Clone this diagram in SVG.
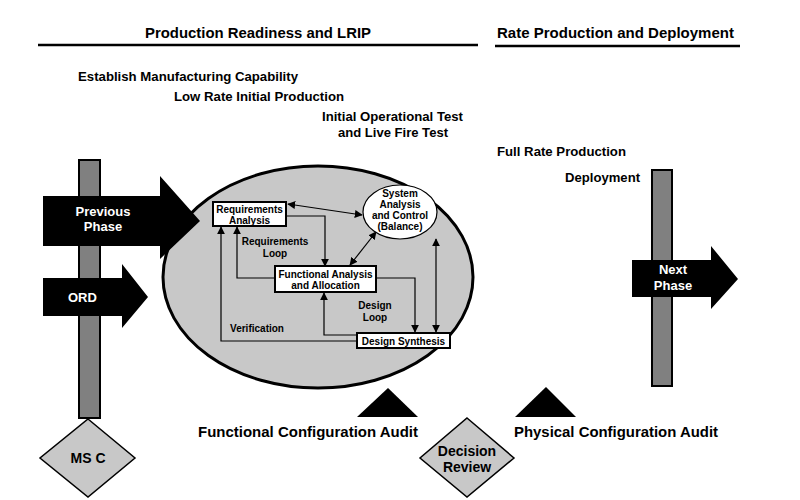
<svg xmlns="http://www.w3.org/2000/svg" width="800" height="500" viewBox="0 0 800 500">
<style>
text{font-family:"Liberation Sans",Arial,sans-serif;font-weight:bold;fill:#000}
.hdr{font-size:15px}
.aud{font-size:15px}
.act{font-size:13px}
.wt{fill:#fff;font-size:13px}
.sm{font-size:10px}
.box{fill:#fff;stroke:#000;stroke-width:2}
.bar{fill:#808080;stroke:#000;stroke-width:2}
.dia{fill:#c8c8c8;stroke:#000;stroke-width:1.5}
.con{fill:none;stroke:#000;stroke-width:1.2}
</style>
<defs>
<marker id="ah" viewBox="0 0 10 10" refX="9" refY="5" markerWidth="8" markerHeight="8" orient="auto-start-reverse" markerUnits="userSpaceOnUse"><path d="M0,0 L10,5 L0,10 z" fill="#000"/></marker>
</defs>
<rect width="800" height="500" fill="#fff"/>

<g id="headers">
<text class="hdr" x="145" y="38" textLength="226" lengthAdjust="spacingAndGlyphs">Production Readiness and LRIP</text>
<line x1="38" y1="45" x2="478" y2="45" stroke="#000" stroke-width="2.5"/>
<text class="hdr" x="497" y="38" textLength="237" lengthAdjust="spacingAndGlyphs">Rate Production and Deployment</text>
<line x1="495" y1="46" x2="740" y2="46" stroke="#000" stroke-width="2.5"/>
</g>

<g id="activities">
<text class="act" x="78" y="81" textLength="220" lengthAdjust="spacingAndGlyphs">Establish Manufacturing Capability</text>
<text class="act" x="174" y="101" textLength="170" lengthAdjust="spacingAndGlyphs">Low Rate Initial Production</text>
<text class="act" x="322" y="121" textLength="141" lengthAdjust="spacingAndGlyphs">Initial Operational Test</text>
<text class="act" x="338" y="137" textLength="110" lengthAdjust="spacingAndGlyphs">and Live Fire Test</text>
<text class="act" x="497" y="156" textLength="129" lengthAdjust="spacingAndGlyphs">Full Rate Production</text>
<text class="act" x="565" y="182" textLength="75" lengthAdjust="spacingAndGlyphs">Deployment</text>
</g>

<g id="left-bar"><rect class="bar" x="79" y="160" width="21" height="258"/></g>
<g id="right-bar"><rect class="bar" x="652" y="170" width="20" height="216"/></g>

<g id="se-process"><ellipse cx="318" cy="277" rx="155" ry="111" fill="#c8c8c8" stroke="#000" stroke-width="3"/></g>

<g id="previous-phase">
<path d="M43,196 H160 V176 L200,221 L160,259 V246 H43 Z" fill="#000"/>
<text class="wt" x="103" y="216" text-anchor="middle">Previous</text>
<text class="wt" x="103" y="231" text-anchor="middle">Phase</text>
</g>

<g id="ord">
<path d="M43,278 H122 V264 L148,297 L122,328 V316 H43 Z" fill="#000"/>
<text class="wt" x="68" y="302">ORD</text>
</g>

<g id="next-phase">
<path d="M632,260 H711 V246 L738,279 L711,309 V297 H632 Z" fill="#000"/>
<text class="wt" x="673" y="274" text-anchor="middle">Next</text>
<text class="wt" x="673" y="290" text-anchor="middle">Phase</text>
</g>

<g id="connectors">
<line class="con" x1="288" y1="204" x2="362" y2="215" marker-start="url(#ah)" marker-end="url(#ah)"/>
<path class="con" d="M286,216 H325 V266" marker-end="url(#ah)"/>
<line class="con" x1="350" y1="265" x2="376" y2="232" marker-start="url(#ah)" marker-end="url(#ah)"/>
<path class="con" d="M275,278 H237 V227" marker-end="url(#ah)"/>
<path class="con" d="M376,278 H415 V332" marker-end="url(#ah)"/>
<line class="con" x1="436" y1="239" x2="436" y2="332" marker-start="url(#ah)" marker-end="url(#ah)"/>
<path class="con" d="M357,335 H324 V293" marker-end="url(#ah)"/>
<path class="con" d="M357,341 H221 V227" marker-end="url(#ah)"/>
</g>

<g id="loop-labels">
<text class="sm" x="275" y="245" text-anchor="middle">Requirements</text>
<text class="sm" x="275" y="257" text-anchor="middle">Loop</text>
<text class="sm" x="375" y="309" text-anchor="middle">Design</text>
<text class="sm" x="375" y="321" text-anchor="middle">Loop</text>
<text class="sm" x="257" y="332" text-anchor="middle">Verification</text>
</g>

<g id="requirements-analysis">
<rect class="box" x="213" y="202" width="73" height="24"/>
<text class="sm" x="249.5" y="212.5" text-anchor="middle">Requirements</text>
<text class="sm" x="249.5" y="223.5" text-anchor="middle">Analysis</text>
</g>

<g id="system-analysis">
<ellipse cx="400" cy="212" rx="37" ry="27" fill="#fff" stroke="#000" stroke-width="1.2"/>
<text class="sm" x="400" y="197" text-anchor="middle">System</text>
<text class="sm" x="400" y="208" text-anchor="middle">Analysis</text>
<text class="sm" x="400" y="219" text-anchor="middle">and Control</text>
<text class="sm" x="400" y="230" text-anchor="middle">(Balance)</text>
</g>

<g id="functional-analysis">
<rect class="box" x="275" y="266" width="101" height="26"/>
<text class="sm" x="325.5" y="277.5" text-anchor="middle">Functional Analysis</text>
<text class="sm" x="325.5" y="289" text-anchor="middle">and Allocation</text>
</g>

<g id="design-synthesis">
<rect class="box" x="357" y="333" width="93" height="15"/>
<text class="sm" x="403.5" y="344.5" text-anchor="middle">Design Synthesis</text>
</g>

<g id="fca">
<path d="M388,388 L418,417 H357 Z" fill="#000"/>
<text class="aud" x="198" y="437" textLength="220" lengthAdjust="spacingAndGlyphs">Functional Configuration Audit</text>
</g>

<g id="pca">
<path d="M546,387 L576,417 H515 Z" fill="#000"/>
<text class="aud" x="514" y="437" textLength="204" lengthAdjust="spacingAndGlyphs">Physical Configuration Audit</text>
</g>

<g id="ms-c">
<path class="dia" d="M88,419 L135,458 L88,497 L40,458 Z"/>
<text x="88" y="463" text-anchor="middle" font-size="14">MS C</text>
</g>

<g id="decision-review">
<path class="dia" d="M467,418 L514,458 L467,497 L420,458 Z"/>
<text x="467" y="456" text-anchor="middle" font-size="14">Decision</text>
<text x="467" y="472" text-anchor="middle" font-size="14">Review</text>
</g>
</svg>
